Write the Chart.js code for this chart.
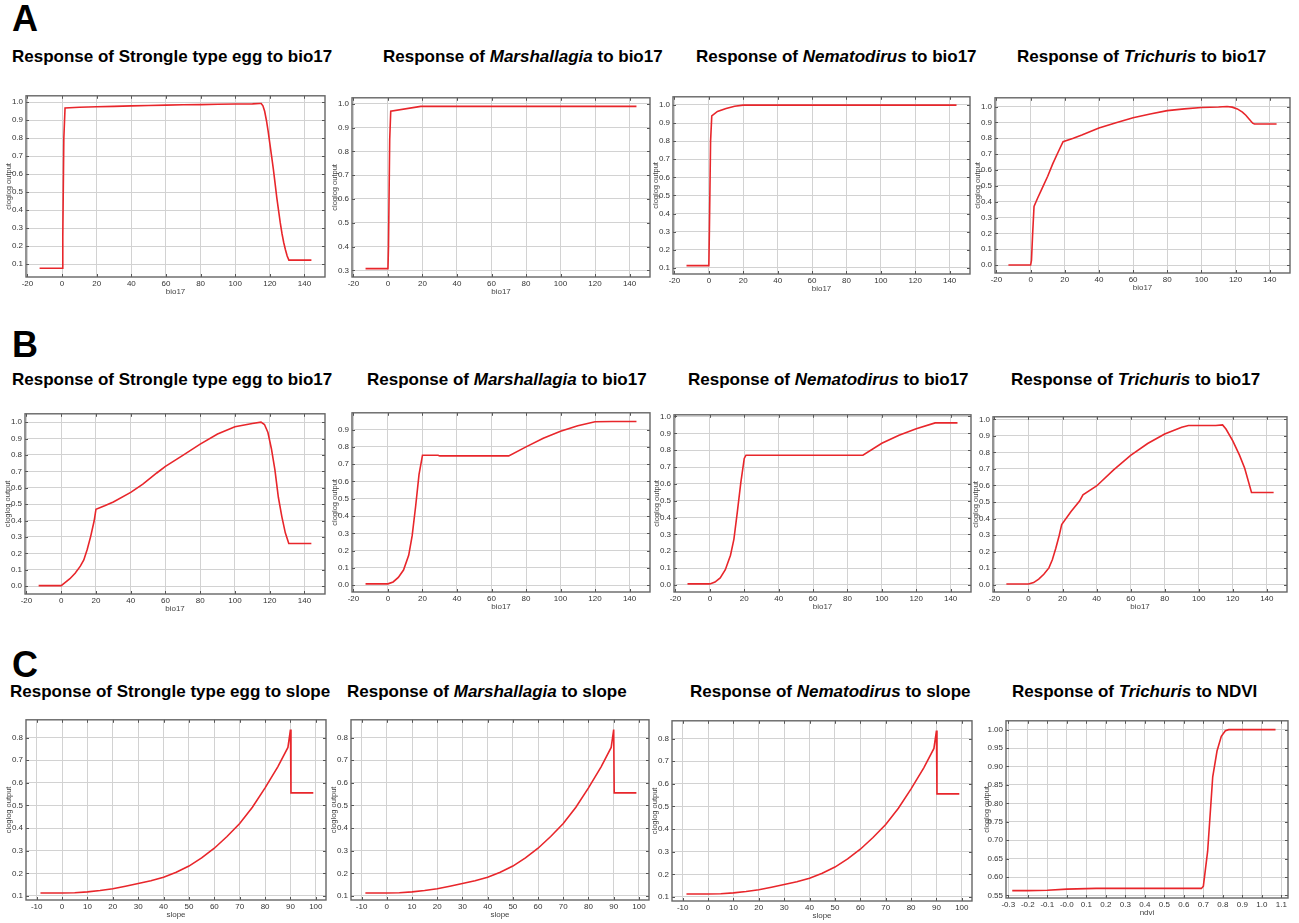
<!DOCTYPE html>
<html>
<head>
<meta charset="utf-8">
<script src="https://cdn.jsdelivr.net/npm/chart.js@4.4.0/dist/chart.umd.min.js"></script>
<style>
  body { margin: 0; background: #fff; width: 1299px; height: 923px; position: relative; overflow: hidden;
         font-family: "Liberation Sans", Arial, sans-serif; }
  .letter { position: absolute; left: 12px; font-size: 36px; line-height: 36px; font-weight: bold; color: #000; }
  .title { position: absolute; font-size: 17px; line-height: 20px; font-weight: bold; white-space: nowrap; color: #000; }
  .panel { position: absolute; }
</style>
</head>
<body>
<div class="letter" style="top:1px">A</div>
<div class="letter" style="top:327px">B</div>
<div class="letter" style="top:647px">C</div>

<div class="title" style="left:12px;top:47px">Response of Strongle type egg to bio17</div>
<div class="title" style="left:383px;top:47px">Response of <i>Marshallagia</i> to bio17</div>
<div class="title" style="left:696px;top:47px">Response of <i>Nematodirus</i> to bio17</div>
<div class="title" style="left:1017px;top:47px">Response of <i>Trichuris</i> to bio17</div>

<div class="title" style="left:12px;top:370px">Response of Strongle type egg to bio17</div>
<div class="title" style="left:367px;top:370px">Response of <i>Marshallagia</i> to bio17</div>
<div class="title" style="left:688px;top:370px">Response of <i>Nematodirus</i> to bio17</div>
<div class="title" style="left:1011px;top:370px">Response of <i>Trichuris</i> to bio17</div>

<div class="title" style="left:10px;top:682px">Response of Strongle type egg to slope</div>
<div class="title" style="left:347px;top:682px">Response of <i>Marshallagia</i> to slope</div>
<div class="title" style="left:690px;top:682px">Response of <i>Nematodirus</i> to slope</div>
<div class="title" style="left:1012px;top:682px">Response of <i>Trichuris</i> to NDVI</div>

<script>
// tick values
const bioTicks = [-20, 0, 20, 40, 60, 80, 100, 120, 140];
const slopeTicks = [-10, 0, 10, 20, 30, 40, 50, 60, 70, 80, 90, 100];
const ndviTicks = [-0.3, -0.2, -0.1, 0.0, 0.1, 0.2, 0.3, 0.4, 0.5, 0.6, 0.7, 0.8, 0.9, 1.0, 1.1];
const ndviLabels = ['-0.3', '-0.2', '-0.1', '-0.0', '0.1', '0.2', '0.3', '0.4', '0.5', '0.6', '0.7', '0.8', '0.9', '1.0', '1.1'];
const unitTicks = [0.0, 0.1, 0.2, 0.3, 0.4, 0.5, 0.6, 0.7, 0.8, 0.9, 1.0];
const slopeYTicks = [0.1, 0.2, 0.3, 0.4, 0.5, 0.6, 0.7, 0.8];
const ndviYTicks = [0.55, 0.60, 0.65, 0.70, 0.75, 0.80, 0.85, 0.90, 0.95, 1.00];

// A: bio17 responses
const aStrongleX = [-13, 0, 0.4, 1.0, 1.7, 10, 20, 30, 40, 50, 60, 70, 80, 90, 100, 110, 114, 115, 116, 117, 118, 119, 120, 121, 122, 123, 124, 125, 126, 127, 128, 129, 130, 131, 144];
const aStrongleY = [0.077, 0.077, 0.25, 0.8, 0.968, 0.972, 0.975, 0.977, 0.980, 0.982, 0.984, 0.986, 0.987, 0.989, 0.990, 0.991, 0.993, 0.993, 0.98, 0.95, 0.90, 0.84, 0.77, 0.70, 0.63, 0.55, 0.47, 0.40, 0.33, 0.27, 0.22, 0.18, 0.145, 0.122, 0.122];

const aMarshX = [-13, 0, 0.3, 1.0, 1.6, 19, 144];
const aMarshY = [0.307, 0.307, 0.4, 0.85, 0.969, 0.989, 0.989];

const aNematX = [-13, 0, 0.3, 1.0, 1.7, 5, 10, 15, 20, 144];
const aNematY = [0.112, 0.112, 0.3, 0.8, 0.94, 0.964, 0.98, 0.993, 0.999, 0.999];

const aTrichX = [-13, 0, 0.5, 1.2, 2, 4, 7, 10, 13, 16, 19, 25, 30, 40, 50, 60, 70, 80, 90, 100, 110, 115, 118, 121, 124, 126, 128, 130, 131, 144];
const aTrichY = [0, 0, 0.03, 0.2, 0.37, 0.42, 0.49, 0.56, 0.64, 0.71, 0.778, 0.80, 0.82, 0.865, 0.898, 0.929, 0.953, 0.974, 0.985, 0.994, 0.997, 1.0, 0.996, 0.985, 0.965, 0.945, 0.92, 0.895, 0.89, 0.89];

// B: bio17 responses
const bStrongleX = [-13, 0, 2, 5, 8, 11, 13, 15, 17, 19, 20, 25, 30, 40, 47, 55, 60, 70, 80, 90, 100, 110, 115, 117, 119, 121, 123, 125, 127, 129, 131, 144];
const bStrongleY = [0.003, 0.003, 0.02, 0.045, 0.079, 0.122, 0.16, 0.225, 0.305, 0.40, 0.469, 0.49, 0.513, 0.572, 0.622, 0.69, 0.73, 0.797, 0.866, 0.928, 0.972, 0.992, 1.0, 0.986, 0.937, 0.838, 0.71, 0.542, 0.424, 0.325, 0.26, 0.26];

const bMarshX = [-13, 0, 3, 6, 9, 12, 14, 16, 18, 20, 29, 30, 70, 80, 90, 100, 110, 120, 130, 144];
const bMarshY = [0.008, 0.008, 0.019, 0.045, 0.088, 0.173, 0.285, 0.454, 0.641, 0.752, 0.752, 0.748, 0.748, 0.80, 0.85, 0.89, 0.922, 0.945, 0.947, 0.947];

const bNematX = [-13, 0, 3, 6, 9, 12, 14, 16, 18, 20, 21, 89, 100, 110, 120, 131, 144];
const bNematY = [0.006, 0.006, 0.017, 0.042, 0.09, 0.176, 0.272, 0.435, 0.607, 0.751, 0.77, 0.77, 0.841, 0.889, 0.927, 0.962, 0.962];

const bTrichX = [-13, 0, 3, 6, 9, 12, 14, 16, 18, 19.5, 25, 30, 32, 40, 50, 60, 70, 80, 90, 94, 110, 114, 116, 120, 124, 127, 131, 144];
const bTrichY = [0.003, 0.003, 0.012, 0.033, 0.062, 0.101, 0.15, 0.218, 0.296, 0.364, 0.442, 0.506, 0.543, 0.597, 0.695, 0.782, 0.854, 0.912, 0.953, 0.963, 0.963, 0.967, 0.942, 0.87, 0.782, 0.704, 0.558, 0.558];

// C: slope / ndvi responses
const slopeX = [-8.5, 0, 5, 10, 15, 20, 25, 30, 35, 40, 45, 50, 55, 60, 65, 70, 75, 80, 85, 89, 90, 90.2, 99];
const slopeStrongleY = [0.113, 0.113, 0.114, 0.118, 0.124, 0.132, 0.143, 0.155, 0.167, 0.183, 0.205, 0.232, 0.268, 0.311, 0.363, 0.42, 0.492, 0.578, 0.671, 0.757, 0.836, 0.556, 0.556];
const slopeMarshY = [0.113, 0.113, 0.114, 0.118, 0.124, 0.132, 0.143, 0.155, 0.167, 0.183, 0.205, 0.232, 0.268, 0.311, 0.363, 0.42, 0.492, 0.578, 0.671, 0.757, 0.836, 0.556, 0.556];
const slopeNematY = [0.113, 0.113, 0.114, 0.118, 0.124, 0.132, 0.143, 0.155, 0.167, 0.183, 0.205, 0.232, 0.268, 0.311, 0.363, 0.42, 0.492, 0.578, 0.671, 0.757, 0.836, 0.556, 0.556];

const ndviX = [-0.28, -0.2, -0.1, 0.0, 0.15, 0.69, 0.70, 0.722, 0.748, 0.77, 0.792, 0.813, 0.83, 1.07];
const ndviY = [0.563, 0.563, 0.564, 0.567, 0.569, 0.569, 0.575, 0.67, 0.872, 0.942, 0.982, 0.997, 1.0, 1.0];

Chart.defaults.font.family = '"Liberation Sans", Arial, sans-serif';

const int = v => String(v);
const one = v => v.toFixed(1);
const two = v => v.toFixed(2);
const ndviFmt = v => ndviLabels[ndviTicks.findIndex(t => Math.abs(t - v) < 1e-9)];

const bioRange = [-20.85, 151.85];
const slopeRange = [-14.2, 104];

// area = plot box [left, top, right, bottom] on the page
const panels = [
  { x: aStrongleX, y: aStrongleY, xt: bioTicks, yt: unitTicks, xf: int, yf: one, xTitle: 'bio17', xr: bioRange, yr: [0.028, 1.036], area: [26, 91, 325, 277] },
  { x: aMarshX, y: aMarshY, xt: bioTicks, yt: unitTicks, xf: int, yf: one, xTitle: 'bio17', xr: bioRange, yr: [0.272, 1.025], area: [352, 93, 650, 277] },
  { x: aNematX, y: aNematY, xt: bioTicks, yt: unitTicks, xf: int, yf: one, xTitle: 'bio17', xr: bioRange, yr: [0.066, 1.045], area: [673, 92, 970, 274] },
  { x: aTrichX, y: aTrichY, xt: bioTicks, yt: unitTicks, xf: int, yf: one, xTitle: 'bio17', xr: bioRange, yr: [-0.05, 1.055], area: [995, 93, 1290, 273] },
  { x: bStrongleX, y: bStrongleY, xt: bioTicks, yt: unitTicks, xf: int, yf: one, xTitle: 'bio17', xr: bioRange, yr: [-0.048, 1.051], area: [25, 409, 325, 594] },
  { x: bMarshX, y: bMarshY, xt: bioTicks, yt: unitTicks, xf: int, yf: one, xTitle: 'bio17', xr: bioRange, yr: [-0.039, 0.997], area: [352, 408, 650, 592] },
  { x: bNematX, y: bNematY, xt: bioTicks, yt: unitTicks, xf: int, yf: one, xTitle: 'bio17', xr: bioRange, yr: [-0.042, 1.01], area: [674, 410, 971, 592] },
  { x: bTrichX, y: bTrichY, xt: bioTicks, yt: unitTicks, xf: int, yf: one, xTitle: 'bio17', xr: bioRange, yr: [-0.045, 1.016], area: [993, 412, 1287, 592] },
  { x: slopeX, y: slopeStrongleY, xt: slopeTicks, yt: slopeYTicks, xf: int, yf: one, xTitle: 'slope', xr: slopeRange, yr: [0.082, 0.879], area: [26, 715, 326, 900] },
  { x: slopeX, y: slopeMarshY, xt: slopeTicks, yt: slopeYTicks, xf: int, yf: one, xTitle: 'slope', xr: slopeRange, yr: [0.082, 0.879], area: [351, 715, 649, 900] },
  { x: slopeX, y: slopeNematY, xt: slopeTicks, yt: slopeYTicks, xf: int, yf: one, xTitle: 'slope', xr: slopeRange, yr: [0.082, 0.879], area: [672, 716, 972, 901] },
  { x: ndviX, y: ndviY, xt: ndviTicks, yt: ndviYTicks, xf: ndviFmt, yf: two, xTitle: 'ndvi', xr: [-0.312, 1.134], yr: [0.543, 1.024], area: [1006, 716, 1288, 898], yw: 28 }
];

// frame + inward tick marks, drawn over the curve
const frame = {
  id: 'frame',
  afterDatasetsDraw(chart) {
    const { ctx, chartArea: a, scales: { x, y } } = chart;
    ctx.save();
    ctx.strokeStyle = '#555';
    ctx.lineWidth = 1;
    ctx.beginPath();
    x.ticks.forEach(t => {
      const px = Math.round(x.getPixelForValue(t.value)) + 0.5;
      ctx.moveTo(px, a.bottom); ctx.lineTo(px, a.bottom - 3);
      ctx.moveTo(px, a.top); ctx.lineTo(px, a.top + 3);
    });
    y.ticks.forEach(t => {
      const py = Math.round(y.getPixelForValue(t.value)) + 0.5;
      ctx.moveTo(a.left, py); ctx.lineTo(a.left + 3, py);
      ctx.moveTo(a.right, py); ctx.lineTo(a.right - 3, py);
    });
    ctx.stroke();
    ctx.strokeStyle = '#666';
    ctx.lineWidth = 1.4;
    ctx.strokeRect(a.left, a.top, a.right - a.left, a.bottom - a.top);
    ctx.restore();
  }
};

const pick = (list, s) => list
  .filter(v => v >= s.min - 1e-9 && v <= s.max + 1e-9)
  .map(v => ({ value: v }));

const padTop = 3, padRight = 3, xh = 22;

panels.forEach(p => {
  const [L, T, R, B] = p.area;
  const yw = p.yw || 26;
  const div = document.createElement('div');
  div.className = 'panel';
  div.style.left = (L - yw) + 'px';
  div.style.top = (T - padTop) + 'px';
  const canvas = document.createElement('canvas');
  canvas.width = R - L + yw + padRight;
  canvas.height = B - T + padTop + xh;
  div.appendChild(canvas);
  document.body.appendChild(div);

  new Chart(canvas, {
    type: 'line',
    data: {
      datasets: [{
        data: p.x.map((v, i) => ({ x: v, y: p.y[i] })),
        borderColor: '#e8262b',
        borderWidth: 1.6,
        pointRadius: 0,
        tension: 0,
        fill: false
      }]
    },
    options: {
      responsive: false,
      animation: false,
      events: [],
      layout: { padding: { left: 0, top: padTop, right: padRight, bottom: 0 } },
      plugins: { legend: { display: false }, tooltip: { enabled: false } },
      scales: {
        x: {
          type: 'linear',
          bounds: 'data',
          min: p.xr[0],
          max: p.xr[1],
          afterFit: s => { s.height = xh; },
          afterBuildTicks: s => { s.ticks = pick(p.xt, s); },
          ticks: { autoSkip: false, maxRotation: 0, padding: 2, color: '#333', font: { size: 8 }, callback: v => p.xf(v) },
          grid: { color: '#d2d2d2', lineWidth: 1, drawTicks: false },
          border: { display: false },
          title: { display: true, text: p.xTitle, color: '#444', font: { size: 8 }, padding: { top: 0, bottom: 2 } }
        },
        y: {
          type: 'linear',
          bounds: 'data',
          min: p.yr[0],
          max: p.yr[1],
          afterFit: s => { s.width = yw; },
          afterBuildTicks: s => { s.ticks = pick(p.yt, s); },
          ticks: { autoSkip: false, padding: 3, color: '#333', font: { size: 8 }, callback: v => p.yf(v) },
          grid: { color: '#d2d2d2', lineWidth: 1, drawTicks: false },
          border: { display: false },
          title: { display: true, text: 'cloglog output', color: '#444', font: { size: 7.5 }, padding: { top: 4, bottom: 0 } }
        }
      }
    },
    plugins: [frame]
  });
});
</script>
</body>
</html>
